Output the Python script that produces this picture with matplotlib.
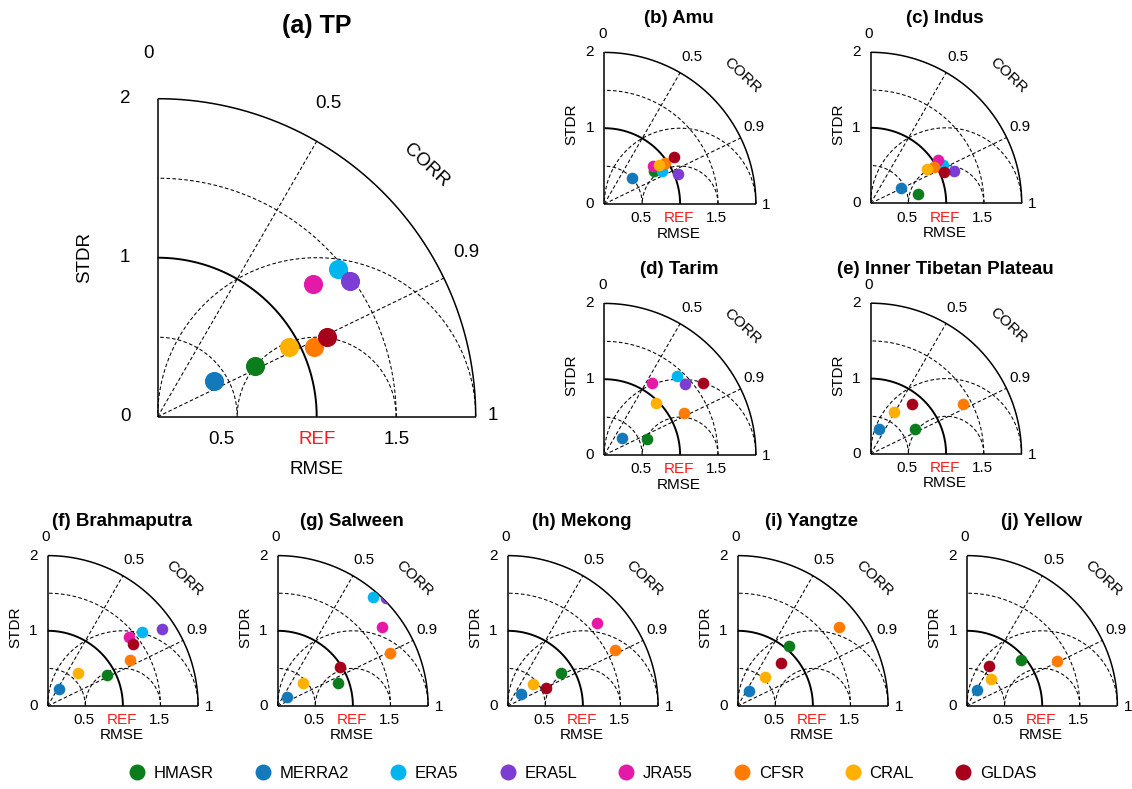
import numpy as np
import matplotlib
matplotlib.use("Agg")
import matplotlib.pyplot as plt
from matplotlib.patches import Wedge
from matplotlib.lines import Line2D

plt.rcParams['font.family'] = ['Liberation Sans', 'DejaVu Sans']

nan = np.nan
models = ['HMASR', 'MERRA2', 'ERA5', 'ERA5L', 'JRA55', 'CFSR', 'CRAL', 'GLDAS']
colors = ['#0c7d1c', '#1479bb', '#00b6ef', '#7b3dd3', '#e419a8', '#ff7b04', '#ffb000', '#a6001d']

# Normalised standard deviation (STDR) and correlation (CORR) per region
TP_std = [0.691, 0.419, 1.463, 1.482, 1.285, 1.077, 0.934, 1.176]
TP_corr = [0.886, 0.845, 0.774, 0.817, 0.762, 0.913, 0.882, 0.904]
Amu_std = [0.789, 0.500, 0.883, 1.043, 0.820, 0.960, 0.884, 1.114]
Amu_corr = [0.830, 0.737, 0.867, 0.927, 0.788, 0.829, 0.810, 0.828]
Indus_std = [0.643, 0.452, 1.081, 1.181, 1.064, 0.973, 0.878, 1.061]
Indus_corr = [0.981, 0.889, 0.883, 0.930, 0.842, 0.866, 0.855, 0.920]
Tarim_std = [0.603, 0.330, 1.422, 1.417, 1.137, 1.186, 0.967, 1.614]
Tarim_corr = [0.934, 0.719, 0.677, 0.747, 0.557, 0.886, 0.710, 0.809]
ITP_std = [0.682, 0.349, nan, nan, nan, 1.388, 0.640, 0.862]
ITP_corr = [0.870, 0.304, nan, nan, nan, 0.880, 0.491, 0.637]
Brahmaputra_std = [0.892, 0.273, 1.595, 1.834, 1.425, 1.254, 0.594, 1.410]
Brahmaputra_corr = [0.884, 0.534, 0.784, 0.829, 0.762, 0.873, 0.680, 0.809]
Salween_std = [0.858, 0.179, 1.927, 2.04, 1.742, 1.654, 0.458, 0.980]
Salween_corr = [0.936, 0.721, 0.661, 0.709, 0.799, 0.903, 0.736, 0.846]
Mekong_std = [0.828, 0.235, nan, nan, 1.629, 1.614, 0.440, 0.562]
Mekong_corr = [0.851, 0.752, nan, nan, 0.732, 0.887, 0.756, 0.901]
Yangtze_std = [1.053, 0.251, nan, nan, nan, 1.704, 0.524, 0.818]
Yangtze_corr = [0.652, 0.602, nan, nan, nan, 0.789, 0.685, 0.710]
Yellow_std = [0.940, 0.251, nan, nan, nan, 1.343, 0.481, 0.605]
Yellow_corr = [0.760, 0.530, nan, nan, nan, 0.895, 0.655, 0.476]

W, H = 1132, 789
fig = plt.figure(figsize=(W / 100, H / 100), dpi=100)


def make_ax(ox, oy, s, x0=-0.75, x1=2.4, y0=-0.55, y1=2.65):
    left = ox + x0 * s
    right = ox + x1 * s
    bot = oy - y0 * s
    top = oy - y1 * s
    ax = fig.add_axes([left / W, 1 - bot / H, (right - left) / W, (bot - top) / H])
    ax.set_xlim(x0, x1)
    ax.set_ylim(y0, y1)
    ax.set_aspect('auto')
    ax.axis('off')
    return ax


def taylor(ax, title, std, corr, big):
    fs = 13.5 if big else 11
    tfs = 18 if big else 13.5
    lw = 1.1
    dl = 0.75
    ds = (0, (3.5, 2.2))
    th = np.linspace(0, np.pi / 2, 300)
    kw = dict(color='k', solid_capstyle='butt', zorder=2)
    ax.plot(2 * np.cos(th), 2 * np.sin(th), lw=lw, **kw)
    ax.plot([0, 0], [0, 2], lw=lw, **kw)
    ax.plot([0, 2], [0, 0], lw=lw, **kw)
    ax.plot(np.cos(th), np.sin(th), lw=1.4, **kw)
    for r in [0.5, 1.5]:
        ax.plot(r * np.cos(th), r * np.sin(th), lw=dl, ls=ds, color='k', zorder=1)
    for c in [0.5, 0.9]:
        ax.plot([0, 2 * c], [0, 2 * np.sqrt(1 - c ** 2)], lw=dl, ls=ds, color='k', zorder=1)
    t2 = np.linspace(0, np.pi, 300)
    for r in [0.5, 1.0]:
        ax.plot(1 + r * np.cos(t2), r * np.sin(t2), lw=dl, ls=ds, color='k', zorder=1)

    s = np.array(std, float)
    c = np.array(corr, float)
    x = s * c
    y = s * np.sqrt(1 - c ** 2)
    wedge = Wedge((0, 0), 2.0, 0, 90, transform=ax.transData, facecolor='none', edgecolor='none')
    ax.add_patch(wedge)
    msz = 190 if big else 70
    for i in range(len(models)):
        sc = ax.scatter([x[i]], [y[i]], s=msz, color=colors[i], linewidths=0, zorder=5)
        sc.set_clip_path(wedge)

    if big:
        P = dict(tick_x=-0.205, top0=(-0.06, 2.285), c05=(1.073, 1.97), c09=(1.943, 1.034),
                 one=(2.11, 0.01), corr=(1.69, 1.58), r05=0.40, rref=1.0, r15=1.5, ry=-0.145,
                 rmse=(1.0, -0.335), stdr=(-0.457, 1.0), title=(1.0, 2.46))
    else:
        P = dict(tick_x=-0.19, top0=(-0.025, 2.245), c05=(1.15, 1.935), c09=(1.98, 1.01),
                 one=(2.14, -0.015), corr=(1.82, 1.70), r05=0.48, rref=0.985, r15=1.48, ry=-0.19,
                 rmse=(0.985, -0.39), stdr=(-0.43, 1.05), title=(0.985, 2.45))
    tk = dict(fontsize=fs, ha='center', va='center', clip_on=False)
    for v, lab in [(0, '0'), (1, '1'), (2, '2')]:
        ax.text(P['tick_x'], v, lab, **tk)
    ax.text(*P['top0'], '0', **tk)
    ax.text(*P['c05'], '0.5', **tk)
    ax.text(*P['c09'], '0.9', **tk)
    ax.text(*P['one'], '1', **tk)
    ax.text(*P['corr'], 'CORR', rotation=-43, rotation_mode='anchor', **tk)
    ax.text(P['r05'], P['ry'], '0.5', **tk)
    ax.text(P['rref'], P['ry'], 'REF', color='#ff1a1a', **tk)
    ax.text(P['r15'], P['ry'], '1.5', **tk)
    ax.text(*P['rmse'], 'RMSE', **tk)
    ax.text(*P['stdr'], 'STDR', rotation=90, **tk)
    ax.text(*P['title'], title, fontsize=tfs, fontweight='bold', ha='center', va='center', clip_on=False)


panels = [
    ('(a) TP', TP_std, TP_corr, 157.7, 416.7, 159.0, True),
    ('(b) Amu', Amu_std, Amu_corr, 604.3, 204.0, 75.8, False),
    ('(c) Indus', Indus_std, Indus_corr, 870.7, 203.3, 75.5, False),
    ('(d) Tarim', Tarim_std, Tarim_corr, 604.3, 455.0, 75.8, False),
    ('(e) Inner Tibetan Plateau', ITP_std, ITP_corr, 870.7, 454.0, 75.4, False),
    ('(f) Brahmaputra', Brahmaputra_std, Brahmaputra_corr, 47.7, 706.0, 75.2, False),
    ('(g) Salween', Salween_std, Salween_corr, 277.7, 706.0, 75.2, False),
    ('(h) Mekong', Mekong_std, Mekong_corr, 507.7, 706.0, 75.2, False),
    ('(i) Yangtze', Yangtze_std, Yangtze_corr, 737.7, 706.0, 75.2, False),
    ('(j) Yellow', Yellow_std, Yellow_corr, 967.0, 706.0, 75.2, False),
]

for title, st, co, ox, oy, sc, big in panels:
    ax = make_ax(ox, oy, sc)
    taylor(ax, title, st, co, big)

handles = [Line2D([], [], marker='o', ls='', markersize=11.5, markerfacecolor=c,
                  markeredgewidth=0, color=c) for c in colors]
fig.legend(handles, models, loc='center', bbox_to_anchor=(582.5 / W, 1 - 773 / H), ncol=8,
           frameon=False, fontsize=12, handlelength=1.0, handletextpad=0.5, columnspacing=2.45,
           borderpad=0.2)

fig.savefig('out.png', dpi=100)
